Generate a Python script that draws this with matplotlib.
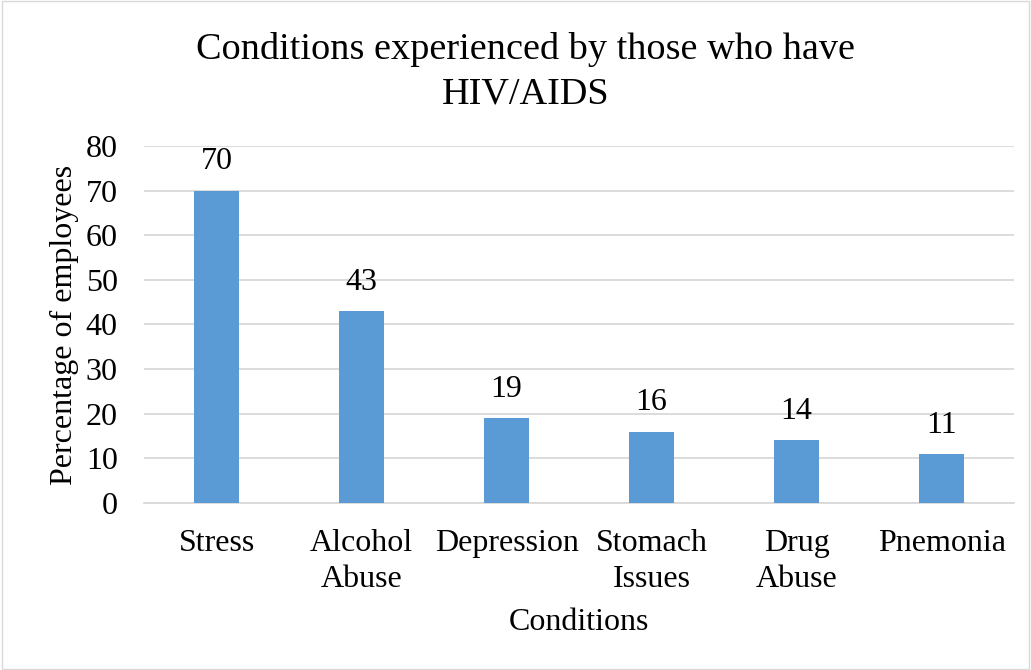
import matplotlib.pyplot as plt
from matplotlib.patches import Rectangle

categories = ['Stress', 'Alcohol\nAbuse', 'Depression', 'Stomach\nIssues', 'Drug\nAbuse', 'Pnemonia']
values = [70, 43, 19, 16, 14, 11]
yticks = [0, 10, 20, 30, 40, 50, 60, 70, 80]

plt.rcParams['font.family'] = ['Liberation Serif', 'DejaVu Serif']

fig = plt.figure(figsize=(10.31, 6.70), dpi=100)
ax = fig.add_axes([0.1397, 0.2493, 0.8439, 0.5328])

x = range(len(categories))
ax.bar(x, values, width=0.31, color='#5B9BD5', zorder=3)
for i, v in zip(x, values):
    ax.text(i, v + 3.2, str(v), ha='center', va='bottom', fontsize=23)

ax.set_xlim(-0.5, len(categories) - 0.5)
ax.set_ylim(0, 80)
ax.set_yticks(yticks)
ax.set_xticks(list(x))
ax.set_xticklabels(categories, fontsize=23, linespacing=1.32)
ax.tick_params(axis='y', labelsize=23, length=0, pad=19)
ax.tick_params(axis='x', length=0, pad=18.5)
ax.grid(axis='y', color='#D9D9D9', linewidth=1.3, zorder=0)
for s in ['top', 'right', 'left']:
    ax.spines[s].set_visible(False)
ax.spines['bottom'].set_color('#D9D9D9')
ax.spines['bottom'].set_linewidth(1.3)

ax.set_ylabel('Percentage of employees', fontsize=23, labelpad=5)
ax.set_xlabel('Conditions', fontsize=23, labelpad=10)
fig.text(0.51, 0.893, 'Conditions experienced by those who have\nHIV/AIDS',
         ha='center', va='center', fontsize=27.5, linespacing=1.35)

fig.patches.append(Rectangle((0.002, 0.002), 0.996, 0.996, transform=fig.transFigure,
                             fill=False, edgecolor='#D9D9D9', linewidth=1))

fig.savefig('out.png', dpi=100)
